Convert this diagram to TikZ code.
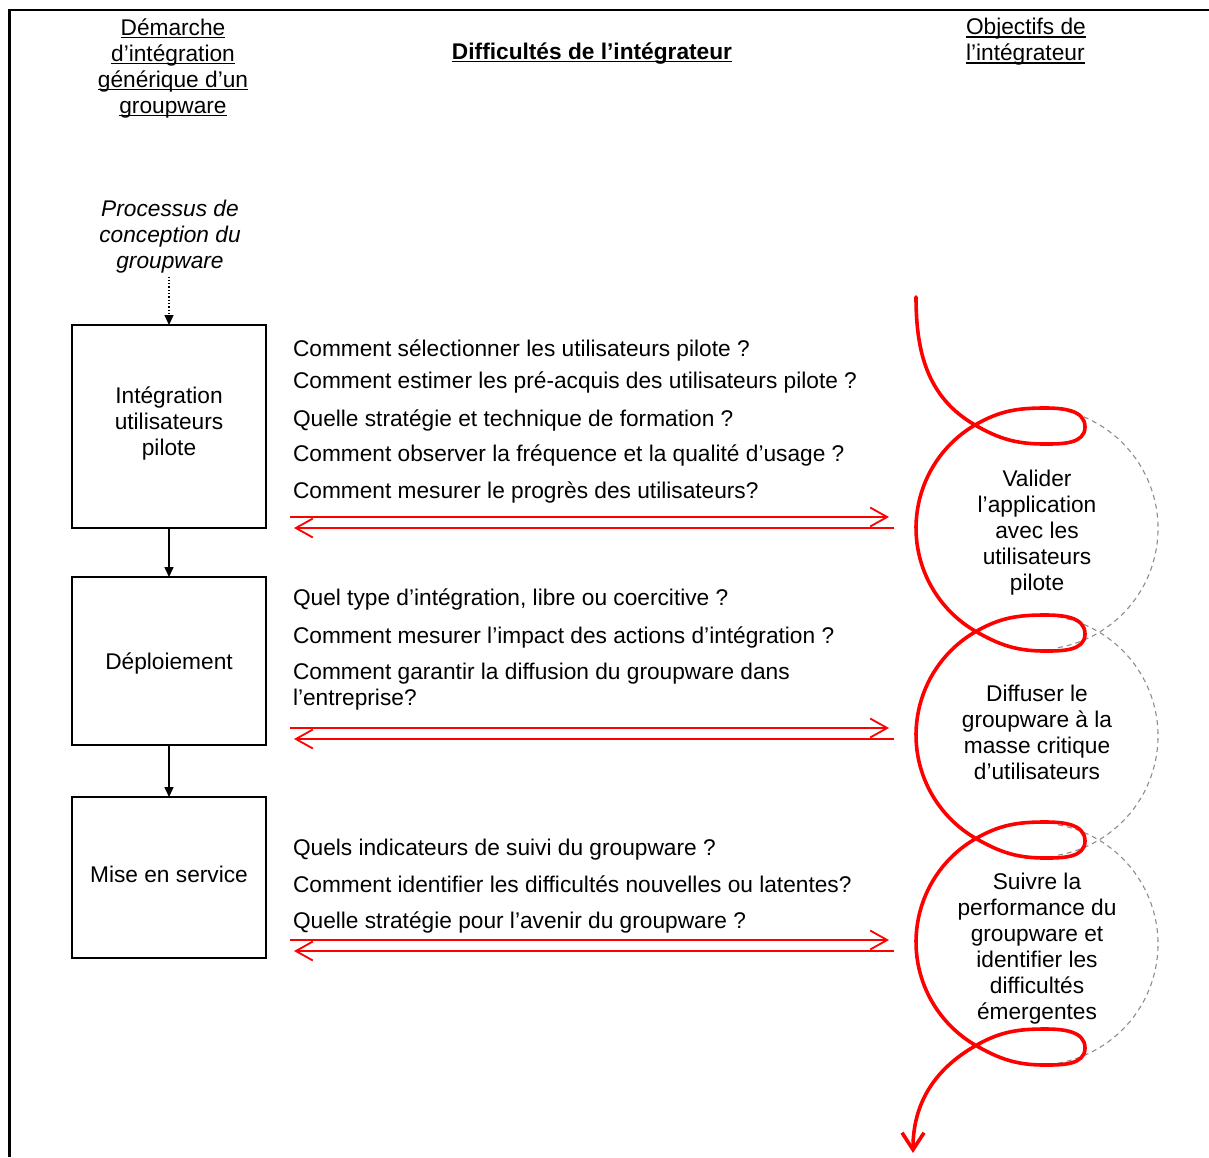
\documentclass[tikz,border=0pt]{standalone}
\usepackage{fontspec}
\setmainfont{Liberation Sans}
\usetikzlibrary{arrows.meta}
\definecolor{guidegray}{HTML}{8C8C8C}
% underline at a fixed distance below the baseline
\newcommand\ulhead[1]{\setbox0\hbox{#1}\rlap{\rule[-3.2pt]{\wd0}{1.7pt}}\box0}

\begin{document}
\begin{tikzpicture}[x=1pt,y=1pt,
  every node/.style={inner sep=0pt,outer sep=0pt,font=\fontsize{22.7}{26}\selectfont},
  stagebox/.style={draw,line width=2pt,minimum width=194pt},
  flow/.style={line width=1.5pt,-{Triangle[length=10pt,width=9pt]}},
  feed/.style={draw=red,line width=1.8pt,-{Straight Barb[length=17pt,width=19pt]}},
  spiral/.style={draw=red,line width=3.6pt,line cap=round,line join=round},
  guide/.style={draw=guidegray,line width=1.1pt,dash pattern=on 5pt off 4pt},
  question/.style={anchor=base west},
]
\useasboundingbox (0,0) rectangle (1209,-1157);

% outer frame (open to the right and bottom)
\draw[line width=2.6pt] (9.3,-1157) -- (9.3,-10) -- (1209,-10);

% column headings
\node[align=center] (hleft) at (173,-68)
  {\ulhead{Démarche}\\\ulhead{d’intégration}\\\ulhead{générique d’un}\\\ulhead{groupware}};
\node[anchor=base,font=\fontsize{22.7}{26}\selectfont\bfseries] (hmid) at (592,-59)
  {\ulhead{Difficultés de l’intégrateur}};
\node[align=left,anchor=west] (hright) at (966,-42)
  {\ulhead{Objectifs de}\\\ulhead{l’intégrateur}};

% integration process
\node[align=center,font=\fontsize{22.7}{26}\selectfont\itshape] (proc) at (170,-237)
  {Processus de\\conception du\\groupware};

\node[stagebox,minimum height=203pt] (s1) at (169,-426.5) {};
\node[stagebox,minimum height=168pt] (s2) at (169,-661) {};
\node[stagebox,minimum height=161pt] (s3) at (169,-877.5) {};
\node[align=center] (l1) at (169,-423) {Intégration\\utilisateurs\\pilote};
\node[anchor=base] (l2) at (169,-669) {Déploiement};
\node[anchor=base] (l3) at (169,-882) {Mise en service};

\coordinate (pd) at ([yshift=-3pt]proc.south);
\draw[flow,line width=1.3pt,dotted] (pd -| s1.north) -- (s1.north);
\draw[flow] (s1.south) -- (s2.north);
\draw[flow] (s2.south) -- (s3.north);

% questions of the integrator
\node[question] (q11) at (293,-356) {Comment sélectionner les utilisateurs pilote ?};
\node[question] (q12) at (293,-388) {Comment estimer les pré-acquis des utilisateurs pilote ?};
\node[question] (q13) at (293,-426) {Quelle stratégie et technique de formation ?};
\node[question] (q14) at (293,-461) {Comment observer la fréquence et la qualité d’usage ?};
\node[question] (q15) at (293,-498) {Comment mesurer le progrès des utilisateurs?};
\node[question] (q21) at (293,-605) {Quel type d’intégration, libre ou coercitive ?};
\node[question] (q22) at (293,-643) {Comment mesurer l’impact des actions d’intégration ?};
\node[question] (q23) at (293,-679) {Comment garantir la diffusion du groupware dans};
\node[question] (q23b) at (293,-705) {l’entreprise?};
\node[question] (q31) at (293,-855) {Quels indicateurs de suivi du groupware ?};
\node[question] (q32) at (293,-892) {Comment identifier les difficultés nouvelles ou latentes?};
\node[question] (q33) at (293,-928) {Quelle stratégie pour l’avenir du groupware ?};

% two-way exchanges between questions and objectives
\coordinate (a1l) at (290,-517); \coordinate (a1r) at (889,-517);
\coordinate (b1r) at (894,-528); \coordinate (b1l) at (294,-528);
\coordinate (a2l) at (290,-728); \coordinate (a2r) at (889,-728);
\coordinate (b2r) at (894,-739); \coordinate (b2l) at (294,-739);
\coordinate (a3l) at (290,-940); \coordinate (a3r) at (889,-940);
\coordinate (b3r) at (894,-951); \coordinate (b3l) at (294,-951);
\foreach \k in {1,2,3}{
  \draw[feed] (a\k l) -- (a\k r);
  \draw[feed] (b\k r) -- (b\k l);
}

% dashed outlines of the objective circles
\foreach \cy in {528.5,736,944}{
  \draw[guide] (1037,-\cy) ++(80:121) arc[start angle=80,end angle=-80,radius=121];
}

% objectives
\node[align=center] (o1) at (1037,-532.6) {Valider\\l’application\\avec les\\utilisateurs\\pilote};
\node[align=center] (o2) at (1037,-732) {Diffuser le\\groupware à la\\masse critique\\d’utilisateurs};
\node[align=center] (o3) at (1037,-949) {Suivre la\\performance du\\groupware et\\identifier les\\difficultés\\émergentes};

% looping progression line: small loop at each crossing, circular arc between crossings
\tikzset{
  smallloop/.style={},
}
\draw[spiral,-{Straight Barb[length=17pt,width=22pt]}] (916,-297)
  to[out=-90,in=150] (975,-425)
  to[out=-30,in=180] (1045,-444) to[out=0,in=-90] (1085,-427)
  to[out=90,in=0] (1045,-408) to[out=180,in=30] (975,-425)
  arc[start angle=120.4,end angle=239.6,radius=119.4]
  to[out=-30,in=180] (1045,-651) to[out=0,in=-90] (1085,-634)
  to[out=90,in=0] (1045,-615) to[out=180,in=30] (975,-632)
  arc[start angle=120.4,end angle=239.6,radius=119.4]
  to[out=-30,in=180] (1045,-858) to[out=0,in=-90] (1085,-841)
  to[out=90,in=0] (1045,-822) to[out=180,in=30] (975,-839)
  arc[start angle=120.4,end angle=239.6,radius=119.4]
  to[out=-30,in=180] (1045,-1065) to[out=0,in=-90] (1085,-1048)
  to[out=90,in=0] (1045,-1029) to[out=180,in=30] (975,-1046)
  to[out=210,in=90] (913,-1153);
\end{tikzpicture}
\end{document}
